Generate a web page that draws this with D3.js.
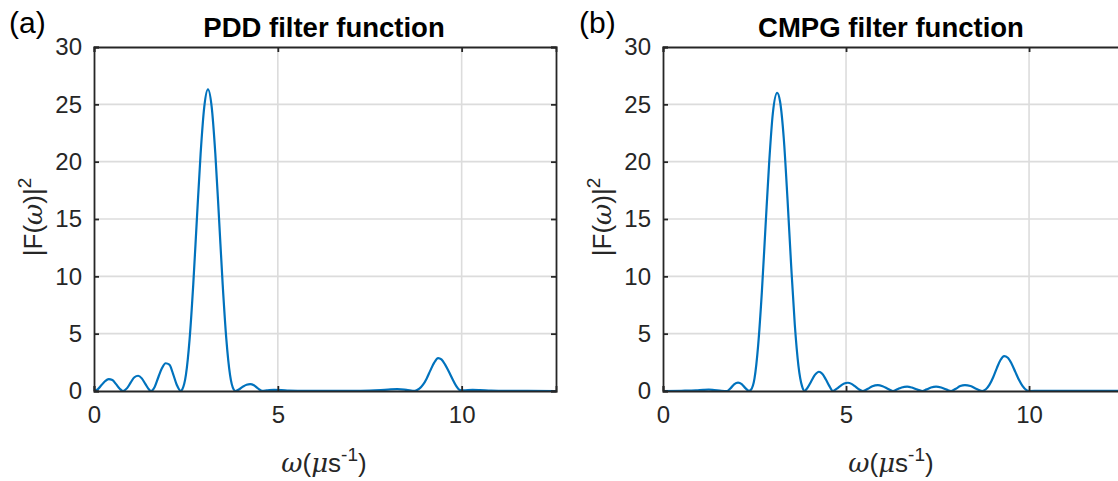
<!DOCTYPE html>
<html><head><meta charset="utf-8">
<script src="https://cdn.jsdelivr.net/npm/d3@7"></script>
<style>
body{margin:0;background:#fff;}
svg{display:block;font-family:"Liberation Sans",Arial,Helvetica,sans-serif;}
</style></head>
<body>
<svg id="c" width="1118" height="481"></svg>
<script>
// ---- data ----
const panelTitles = ["PDD filter function", "CMPG filter function"];
const panelLetters = ["(a)", "(b)"];
const xTicks = [0, 5, 10];
const yTicks = [0, 5, 10, 15, 20, 25, 30];
const xMax = 4 * Math.PI;
const yMax = 30;

const pddW = [0,0.1,0.2,0.3,0.4,0.5,0.6,0.7,0.79,0.9,1.0,1.1,1.2,1.3,1.4,1.5,1.55,1.65,1.75,1.85,1.95,2.05,2.15,2.25,2.36,
  2.4,2.5,2.6,2.7,2.8,2.9,3.0,3.1,3.2,3.3,3.4,3.5,3.6,3.7,3.8,3.85,
  3.95,4.05,4.15,4.25,4.35,4.45,4.57,4.7,4.9,5.1,5.3,5.6,6.0,6.5,7.0,7.5,7.8,8.0,8.25,8.5,8.73,
  8.85,8.95,9.05,9.15,9.25,9.36,9.45,9.55,9.65,9.75,9.85,9.95,10.05,10.3,10.5,10.8,11.2,11.8,12.566];
const pddF = [0,0.15,0.5,0.85,1.03,0.95,0.6,0.2,0,0.25,0.75,1.2,1.33,1.1,0.6,0.12,0,0.35,1.2,2.0,2.42,2.3,1.5,0.55,0,
  0.13,1.4,4.5,9.3,15.1,20.7,24.8,26.3,24.8,20.7,15.1,9.3,4.5,1.4,0.13,0,
  0.15,0.38,0.55,0.6,0.5,0.25,0.02,0.05,0.1,0.08,0.04,0.02,0.01,0.02,0.02,0.04,0.08,0.12,0.16,0.1,0.02,
  0.2,0.55,1.1,1.8,2.45,2.87,2.75,2.3,1.7,1.05,0.45,0.08,0.05,0.1,0.08,0.03,0.01,0.01,0];

const cpmgW = [0,0.5,0.9,1.1,1.25,1.4,1.6,1.75,1.85,1.95,2.05,2.15,2.25,2.35,
  2.4,2.5,2.6,2.7,2.8,2.9,3.0,3.12,3.2,3.3,3.4,3.5,3.6,3.7,3.8,3.87,
  3.95,4.05,4.15,4.26,4.35,4.45,4.55,4.64,
  4.75,4.85,4.95,5.05,5.15,5.25,5.35,5.46,
  5.6,5.72,5.87,6.0,6.15,6.28,
  6.4,6.52,6.67,6.8,6.95,7.08,
  7.2,7.32,7.46,7.6,7.75,7.87,
  8.0,8.12,8.25,8.4,8.55,8.72,
  8.82,8.92,9.02,9.12,9.22,9.32,9.42,9.52,9.62,9.72,9.82,9.92,10.0,10.3,11.0,12.0,12.566];
const cpmgF = [0,0.02,0.05,0.1,0.12,0.08,0.02,0,0.25,0.6,0.73,0.6,0.25,0.02,
  0.1,1.1,4.0,8.6,14.3,19.9,24.2,26.0,25.2,22.0,16.8,11.0,5.8,2.2,0.4,0,
  0.3,0.85,1.4,1.68,1.5,1.0,0.4,0,
  0.2,0.45,0.66,0.72,0.62,0.4,0.15,0,
  0.2,0.42,0.52,0.42,0.18,0,
  0.15,0.31,0.38,0.3,0.12,0,
  0.14,0.3,0.38,0.3,0.12,0,
  0.2,0.43,0.52,0.43,0.2,0,
  0.15,0.55,1.2,2.0,2.7,3.04,2.9,2.4,1.7,1.0,0.45,0.1,0,0.02,0.01,0.01,0];

const seriesW = [pddW, cpmgW];
const seriesF = [pddF, cpmgF];

// ---- layout ----
const panels = [
  {left: 94, right: 556, letterX: 9, titleX: 324},
  {left: 663, right: 1123, letterX: 579, titleX: 891}
];
const plotTop = 47, plotBottom = 391;
const svg = d3.select("#c");
const lineColor = "#0072BD";
const axisColor = "#262626";
const gridColor = "#dcdcdc";

panels.forEach((p, i) => {
  const x = d3.scaleLinear().domain([0, xMax]).range([p.left, p.right]);
  const y = d3.scaleLinear().domain([0, yMax]).range([plotBottom, plotTop]);
  const g = svg.append("g");

  // grid
  g.selectAll(".vg").data(xTicks.filter(t => t > 0)).enter().append("line")
    .attr("x1", d => x(d)).attr("x2", d => x(d)).attr("y1", plotTop).attr("y2", plotBottom)
    .attr("stroke", gridColor).attr("stroke-width", 1.6);
  g.selectAll(".hg").data(yTicks.filter(t => t > 0 && t < yMax)).enter().append("line")
    .attr("x1", p.left).attr("x2", p.right).attr("y1", d => y(d)).attr("y2", d => y(d))
    .attr("stroke", gridColor).attr("stroke-width", 1.6);

  // line
  const data = seriesW[i].map((w, k) => [w, seriesF[i][k]]);
  const line = d3.line().x(d => x(d[0])).y(d => y(d[1])).curve(d3.curveMonotoneX);
  g.append("path").datum(data).attr("d", line).attr("fill", "none")
    .attr("stroke", lineColor).attr("stroke-width", 2.2).attr("stroke-linejoin", "round");

  // axes (ticks inward)
  const tl = 5;
  const xAxisB = d3.axisBottom(x).tickValues(xTicks).tickSize(-tl).tickPadding(15).tickFormat(d3.format("d"));
  const xAxisT = d3.axisTop(x).tickValues(xTicks).tickSize(-tl).tickFormat("");
  const yAxisL = d3.axisLeft(y).tickValues(yTicks).tickSize(-tl).tickPadding(12).tickFormat(d3.format("d"));
  const yAxisR = d3.axisRight(y).tickValues(yTicks).tickSize(-tl).tickFormat("");
  const ax = [
    g.append("g").attr("transform", `translate(0,${plotBottom})`).call(xAxisB),
    g.append("g").attr("transform", `translate(0,${plotTop})`).call(xAxisT),
    g.append("g").attr("transform", `translate(${p.left},0)`).call(yAxisL),
    g.append("g").attr("transform", `translate(${p.right},0)`).call(yAxisR)
  ];
  ax.forEach(a => {
    a.select(".domain").attr("stroke", axisColor).attr("stroke-width", 1.8);
    a.selectAll(".tick line").attr("stroke", axisColor).attr("stroke-width", 1.8);
    a.selectAll(".tick text").attr("fill", "#262626").attr("font-size", 24)
      .attr("font-family", "'Liberation Sans', Arial, sans-serif");
  });

  // title
  g.append("text").attr("x", p.titleX)
    .attr("y", 37).attr("text-anchor", "middle").attr("font-weight", "bold")
    .attr("font-size", 27.5).attr("fill", "#000").text(panelTitles[i]);

  // panel letter
  g.append("text").attr("x", p.letterX).attr("y", 33).attr("font-size", 30).attr("fill", "#000")
    .text(panelLetters[i]);

  // y label
  const yl = g.append("text").attr("transform", `translate(${p.left - 52},${(plotTop + plotBottom) / 2 - 2}) rotate(-90)`)
    .attr("text-anchor", "middle").attr("font-size", 26).attr("fill", "#262626");
  yl.append("tspan").text("|F(");
  yl.append("tspan").attr("font-family", "'DejaVu Serif', serif").attr("font-style", "italic").text("ω");
  yl.append("tspan").text(")|");
  yl.append("tspan").attr("dy", -11).attr("font-size", 19).text("2");

  // x label
  const xl = g.append("text").attr("x", p.titleX).attr("y", 472)
    .attr("text-anchor", "middle").attr("font-size", 26).attr("fill", "#262626");
  xl.append("tspan").attr("font-family", "'DejaVu Serif', serif").attr("font-style", "italic").text("ω");
  xl.append("tspan").text("(");
  xl.append("tspan").attr("font-family", "'DejaVu Serif', serif").attr("font-style", "italic").text("μ");
  xl.append("tspan").text("s");
  xl.append("tspan").attr("dy", -11).attr("font-size", 19).text("-1");
  xl.append("tspan").attr("dy", 11).text(")");
});
</script>
</body></html>
